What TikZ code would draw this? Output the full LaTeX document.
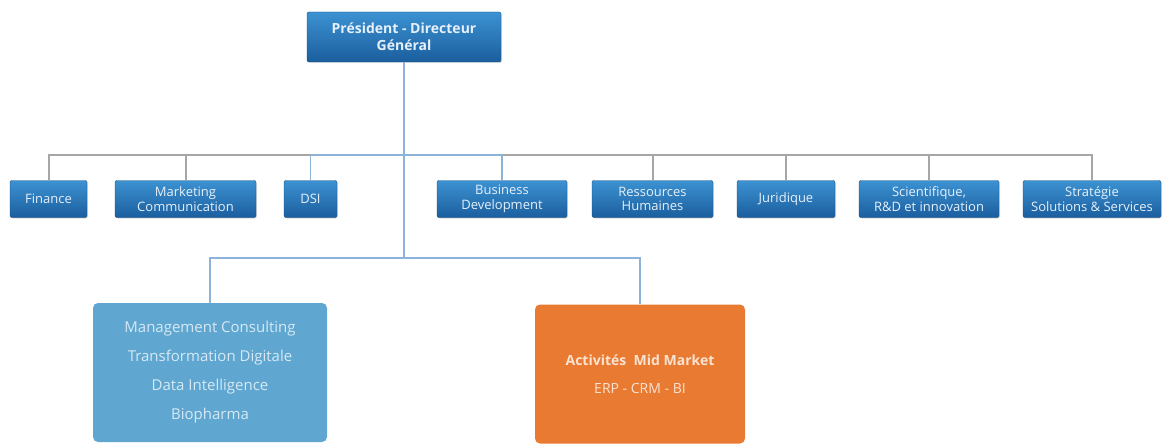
\documentclass[tikz,border=0pt]{standalone}
\usepackage{fontspec}
\setmainfont{Open Sans}
\usetikzlibrary{calc,shadows}
\definecolor{boxtop}{HTML}{3C92D2}
\definecolor{boxbot}{HTML}{1B5E9E}
\definecolor{boxtxt}{HTML}{E6F0FA}
\definecolor{linegray}{HTML}{A6A6A6}
\definecolor{lineblue}{HTML}{8DB3DB}
\definecolor{paleblue}{HTML}{5FA6D0}
\definecolor{paletxt}{HTML}{D6E9F4}
\definecolor{orangebox}{HTML}{E97A32}
\definecolor{orangetxt}{HTML}{FBE3D2}
\tikzset{
  x=1pt, y=-1pt,
  dept/.style={rectangle, rounded corners=2pt, top color=boxtop, bottom color=boxbot,
    draw=boxbot!80!black, line width=0.4pt, text=boxtxt, align=center,
    minimum height=37pt, inner sep=1pt,
    font=\fontsize{13}{14.5}\selectfont,
    drop shadow={shadow xshift=1pt, shadow yshift=-1pt, opacity=0.25}},
  headbox/.style={dept, minimum width=194pt, minimum height=50pt,
    font=\fontsize{14}{17}\selectfont\bfseries},
  bigbox/.style={rectangle, rounded corners=5pt, align=center, inner sep=0pt,
    minimum width=#1, minimum height=139pt},
  grayline/.style={draw=linegray, line width=2pt},
  blueline/.style={draw=lineblue, line width=1.3pt},
}
\begin{document}
\begin{tikzpicture}
\useasboundingbox (0,0) rectangle (1163,444);

% head of the company
\node[headbox] (pdg) at (404,37) {Président - Directeur\\Général};

% support departments
\node[dept, minimum width=77pt]  (fin)  at (48.5,199)  {Finance};
\node[dept, minimum width=141pt] (mkt)  at (185.5,199) {Marketing\\Communication};
\node[dept, minimum width=53pt]  (dsi)  at (310.5,199) {DSI};
\node[dept, minimum width=130pt] (biz)  at (502,199)   {Business\\Development};
\node[dept, minimum width=121pt] (rh)   at (652.5,199) {Ressources\\Humaines};
\node[dept, minimum width=98pt]  (jur)  at (786,199)   {Juridique};
\node[dept, minimum width=140pt] (sci)  at (929,199)   {Scientifique,\\R\&D et innovation};
\node[dept, minimum width=138pt] (strat) at (1092,199) {Stratégie\\Solutions \& Services};

% business lines
\node[bigbox=234pt, fill=paleblue, text=paletxt,
      font=\fontsize{15}{29}\selectfont] (conseil) at (210,372.5)
  {Management Consulting\\Transformation Digitale\\Data Intelligence\\Biopharma};
\node[bigbox=210pt, fill=orangebox, text=orangetxt,
      font=\fontsize{14}{28}\selectfont] (mid) at (640,374)
  {\textbf{Activités\ \ Mid Market}\\ERP - CRM - BI};

% bus levels
\coordinate (bus1) at (0,155);
\coordinate (bus2) at (0,258);

% departments bus
\draw[grayline] (fin.north) -- (fin.north |- bus1) -- (strat.north |- bus1) -- (strat.north);
\foreach \n in {mkt,rh,jur,sci}
  \draw[grayline] (\n.north) -- (\n.north |- bus1);
\draw[blueline] (dsi.north |- bus1) -- (biz.north |- bus1);
\draw[blueline] (dsi.north) -- (dsi.north |- bus1);
\draw[blueline] (biz.north) -- (biz.north |- bus1);

% trunk and business-line bus
\draw[blueline] (pdg.south) -- (pdg.south |- bus2);
\draw[blueline] (conseil.north) -- (conseil.north |- bus2) -- (mid.north |- bus2) -- (mid.north);
\end{tikzpicture}
\end{document}
